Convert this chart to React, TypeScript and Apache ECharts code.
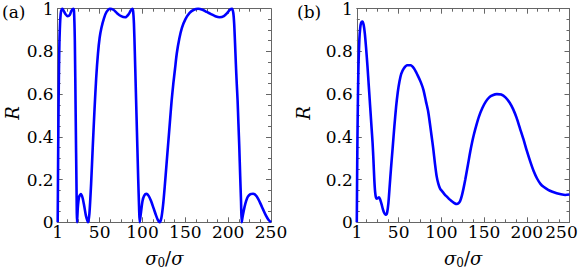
import React, { useEffect, useRef } from "react";
import * as echarts from "echarts";

// Panel (a): reflectance R versus sigma0/sigma
const seriesA: [number, number][] = [
  [1, 0], [1.5, 0.3], [2, 0.55], [2.5, 0.72], [3, 0.84], [4, 0.95], [5, 0.99], [6.5, 1.0],
  [8, 0.99], [10, 0.975], [12.5, 0.965], [15, 0.97], [17, 0.99], [19, 1.0], [20, 0.99],
  [21, 0.85], [22, 0.5], [23, 0.15], [23.6, 0],
  [24.5, 0.07], [26, 0.12], [28, 0.132], [30, 0.115], [32, 0.075], [34, 0.03], [36.5, 0],
  [38, 0.04], [40, 0.18], [42, 0.36], [44, 0.53], [46, 0.68], [48, 0.79], [50, 0.865],
  [52, 0.91], [55, 0.955], [58, 0.985], [62, 1.0], [66, 0.995], [70, 0.98], [75, 0.965],
  [80, 0.96], [84, 0.975], [86, 0.99], [88, 1.0], [89, 0.99], [90, 0.93], [91, 0.8],
  [92, 0.65], [93, 0.5], [94, 0.35], [95, 0.2], [96, 0.07], [96.7, 0],
  [98, 0.04], [100, 0.1], [102, 0.125], [104.5, 0.133], [107, 0.125], [110, 0.1],
  [113, 0.065], [116, 0.03], [118, 0.01], [120, 0],
  [122, 0.02], [124, 0.08], [126, 0.17], [128, 0.27], [130, 0.37], [132, 0.47], [134, 0.57],
  [136, 0.65], [138, 0.72], [140, 0.79], [143, 0.86], [146, 0.91], [150, 0.95], [155, 0.98],
  [160, 0.995], [165, 1.0], [170, 0.995], [175, 0.985], [180, 0.975], [185, 0.965],
  [190, 0.96], [195, 0.965], [199, 0.98], [202, 0.995], [204.5, 1.0], [206, 0.98],
  [207, 0.93], [208, 0.84], [209, 0.74], [210, 0.65], [211, 0.57], [212, 0.46], [213, 0.35],
  [214, 0.22], [215, 0.1], [215.8, 0],
  [217, 0.03], [219, 0.07], [221, 0.1], [223, 0.12], [226, 0.132], [229, 0.134], [232, 0.127],
  [235, 0.11], [238, 0.085], [241, 0.058], [244, 0.032], [247, 0.012], [250, 0],
];

// Panel (b): reflectance R versus sigma0/sigma
const seriesB: [number, number][] = [
  [1, 0], [1.5, 0.28], [2, 0.48], [2.5, 0.63], [3, 0.74], [4, 0.855], [5, 0.91], [6, 0.933],
  [7.5, 0.94], [9, 0.925], [10.5, 0.88], [12, 0.81], [13.5, 0.73], [15, 0.64], [16.5, 0.55],
  [18, 0.46], [19.5, 0.37], [20.5, 0.29], [21.5, 0.2], [22.5, 0.14], [23.5, 0.115],
  [24.5, 0.11], [25.5, 0.113], [27, 0.117], [28.5, 0.105], [30, 0.085], [31.5, 0.062],
  [33, 0.045], [34.5, 0.036], [35.5, 0.036], [36.5, 0.045], [38, 0.09], [39.5, 0.17],
  [41, 0.25], [43, 0.35], [45, 0.45], [47, 0.54], [49, 0.61], [51, 0.66], [53, 0.695],
  [56, 0.72], [60, 0.735], [64, 0.735], [68, 0.72], [72, 0.69], [76, 0.655], [79, 0.62],
  [82, 0.565], [84.5, 0.52], [86.5, 0.465], [88.5, 0.405], [90.5, 0.345], [92.5, 0.275],
  [94.5, 0.215], [96.5, 0.18], [98.5, 0.158], [101, 0.145], [104, 0.13], [107, 0.118],
  [110, 0.106], [113, 0.096], [116, 0.088], [118, 0.086], [120, 0.089], [122, 0.1],
  [124, 0.125], [126, 0.16], [128, 0.2], [130, 0.245], [132, 0.29], [134, 0.335],
  [136, 0.375], [138, 0.41], [141, 0.455], [144, 0.495], [148, 0.535], [152, 0.565],
  [156, 0.585], [160, 0.595], [165, 0.6], [170, 0.598], [175, 0.585], [180, 0.56],
  [184, 0.53], [188, 0.49], [192, 0.44], [196, 0.39], [200, 0.335], [204, 0.285],
  [208, 0.24], [212, 0.205], [216, 0.18], [220, 0.165], [225, 0.152], [230, 0.143],
  [235, 0.136], [240, 0.131], [245, 0.128], [250, 0.13],
];

const xLabelValues = [1, 50, 100, 150, 200, 250];
const xMajorTicks = [50, 100, 150, 200];
const xMinorTicks = [12.5, 25, 37.5, 62.5, 75, 87.5, 112.5, 125, 137.5, 162.5, 175, 187.5, 212.5, 225, 237.5];
const xMin = 1;
const xMax = 250;
const yMin = 0;
const yMax = 1;
const yStep = 0.2;
const panelTags = ["(a)", "(b)"];
const yTitle = "R";

const FONT = "DejaVu Serif";
const FRAME = "#666";

export default function App() {
  const ref = useRef<HTMLDivElement>(null);

  useEffect(() => {
    if (!ref.current) return;
    const chart = echarts.init(ref.current, null, { renderer: "svg" });

    const grids = [
      { left: 57.7, top: 8.7, width: 213.3, height: 213.6 },
      { left: 356.8, top: 8.7, width: 212.7, height: 213.6 },
    ];

    const xAxes: any[] = [];
    const yAxes: any[] = [];
    grids.forEach((_, gi) => {
      const base = {
        type: "value",
        gridIndex: gi,
        min: xMin,
        max: xMax,
        splitLine: { show: false },
      };
      const labelRich = {
        r: { fontFamily: FONT, fontSize: 17, color: "#000", padding: [0, 16, 0, 0] },
      };
      xAxes.push({
        ...base,
        position: "bottom",
        axisLine: { show: true, lineStyle: { color: FRAME, width: 1 } },
        axisTick: { show: true, inside: true, length: 5, lineStyle: { color: FRAME }, customValues: xMajorTicks },
        axisLabel: {
          show: true,
          customValues: xLabelValues,
          color: "#000",
          fontFamily: FONT,
          fontSize: 17,
          margin: 1,
          formatter: (v: number) => (gi === 1 && v === xMax ? `{r|${v}}` : String(v)),
          rich: labelRich,
        },
        name: "{i|σ}{s|0}{n|/}{i|σ}",
        nameLocation: "middle",
        nameGap: 25,
        nameTextStyle: {
          fontFamily: FONT,
          rich: {
            i: { fontFamily: FONT, fontStyle: "italic", fontSize: 18, color: "#000", lineHeight: 22, verticalAlign: "middle" },
            s: { fontFamily: FONT, fontSize: 12, color: "#000", lineHeight: 12, verticalAlign: "bottom" },
            n: { fontFamily: FONT, fontSize: 18, color: "#000", lineHeight: 22, verticalAlign: "middle" },
          },
        },
      });
      xAxes.push({
        ...base,
        position: "bottom",
        axisLine: { show: false },
        axisTick: { show: true, inside: true, length: 3, lineStyle: { color: FRAME }, customValues: xMinorTicks },
        axisLabel: { show: false },
      });
      xAxes.push({
        ...base,
        position: "top",
        axisLine: { show: true, lineStyle: { color: FRAME, width: 1 } },
        axisTick: { show: true, inside: true, length: 5, lineStyle: { color: FRAME }, customValues: xMajorTicks },
        axisLabel: { show: false },
      });
      xAxes.push({
        ...base,
        position: "top",
        axisLine: { show: false },
        axisTick: { show: true, inside: true, length: 3, lineStyle: { color: FRAME }, customValues: xMinorTicks },
        axisLabel: { show: false },
      });

      const ybase = {
        type: "value",
        gridIndex: gi,
        min: yMin,
        max: yMax,
        interval: yStep,
        splitLine: { show: false },
        axisLine: { show: true, lineStyle: { color: FRAME, width: 1 } },
        axisTick: { show: true, inside: true, length: 5, lineStyle: { color: FRAME } },
        minorTick: { show: true, splitNumber: 4, length: 3, lineStyle: { color: FRAME } },
      };
      yAxes.push({
        ...ybase,
        position: "left",
        axisLabel: { show: true, color: "#000", fontFamily: FONT, fontSize: 17, margin: 4 },
      });
      yAxes.push({
        ...ybase,
        position: "right",
        axisLabel: { show: false },
      });
    });

    const mkSeries = (data: [number, number][], gi: number) => ({
      type: "line",
      data,
      xAxisIndex: gi * 4,
      yAxisIndex: gi * 2,
      showSymbol: false,
      symbol: "none",
      smooth: 0.25,
      clip: false,
      lineStyle: { color: "#0000ff", width: 2.6 },
    });

    chart.setOption({
      animation: false,
      backgroundColor: "#fff",
      textStyle: { fontFamily: FONT },
      grid: grids.map((g) => ({ ...g, containLabel: false, outerBoundsMode: "none" })),
      xAxis: xAxes,
      yAxis: yAxes,
      series: [mkSeries(seriesA, 0), mkSeries(seriesB, 1)],
      graphic: [
        { type: "text", left: 2, top: 3, style: { text: panelTags[0], fontFamily: FONT, fontSize: 17, fill: "#000" } },
        { type: "text", left: 297, top: 3, style: { text: panelTags[1], fontFamily: FONT, fontSize: 17, fill: "#000" } },
        {
          type: "text", x: 12, y: 113, rotation: Math.PI / 2,
          style: { text: yTitle, fontFamily: FONT, fontStyle: "italic", fontSize: 18, fill: "#000", align: "center", verticalAlign: "middle" },
        },
        {
          type: "text", x: 303, y: 113, rotation: Math.PI / 2,
          style: { text: yTitle, fontFamily: FONT, fontStyle: "italic", fontSize: 18, fill: "#000", align: "center", verticalAlign: "middle" },
        },
      ],
    });

    return () => chart.dispose();
  }, []);

  return (
    <div
      ref={ref}
      style={{ position: "fixed", left: 0, top: 0, width: 582, height: 270, background: "#fff" }}
    />
  );
}
